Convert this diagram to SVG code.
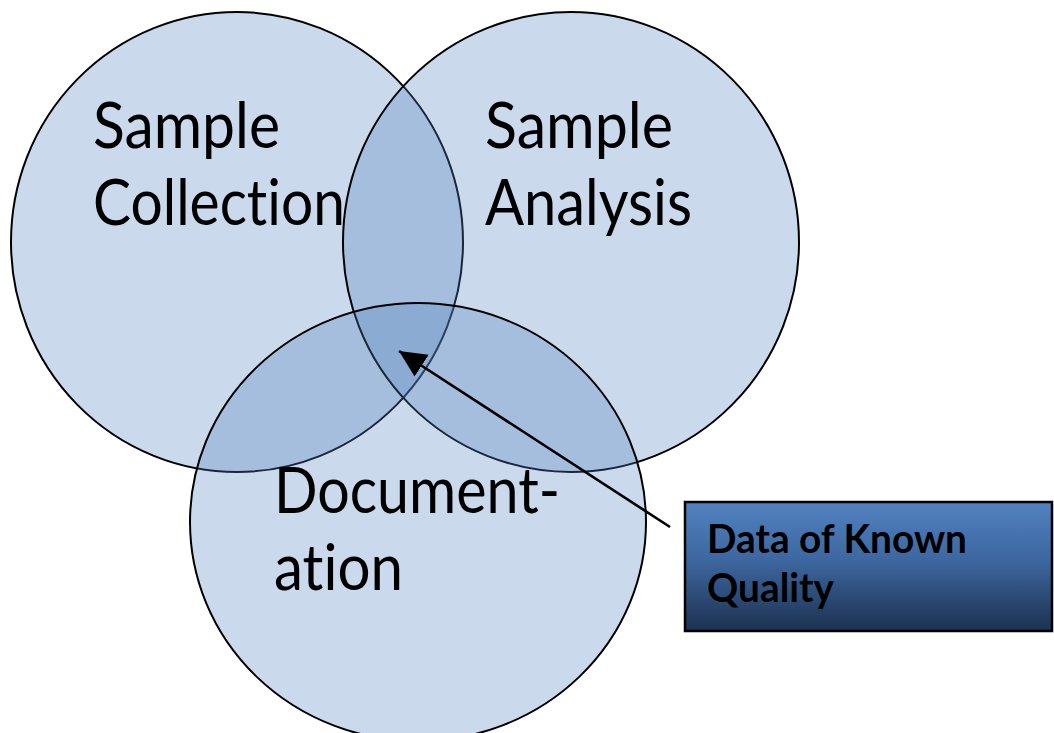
<svg xmlns="http://www.w3.org/2000/svg" width="1054" height="733" viewBox="0 0 1054 733">
  <style>
    .set { fill: #4f81bd; fill-opacity: 0.3; stroke: #000; stroke-width: 2; }
    .lbl { font-family: Lato, "Open Sans", "Liberation Sans", sans-serif; font-size: 63px; fill: #000; font-variant-ligatures: none; }
    .note { font-family: Lato, "Open Sans", "Liberation Sans", sans-serif; font-size: 41px; font-weight: bold; fill: #000; font-variant-ligatures: none; }
    .link { stroke: #000; stroke-width: 2.6; fill: none; }
  </style>
  <defs>
    <linearGradient id="boxFill" x1="0" y1="0" x2="0" y2="1">
      <stop offset="0" stop-color="#5182c0"/>
      <stop offset="0.45" stop-color="#3d67a0"/>
      <stop offset="1" stop-color="#1c3150"/>
    </linearGradient>
    <marker id="head" markerUnits="userSpaceOnUse" markerWidth="30" markerHeight="30" refX="27" refY="13" orient="auto">
      <path d="M0,0 L27,13 L0,26 Z" fill="#000"/>
    </marker>
  </defs>

  <!-- three overlapping sets -->
  <g id="sample-collection">
    <ellipse class="set" cx="237" cy="242" rx="226" ry="230"/>
    <text class="lbl" x="93" y="148" textLength="187" lengthAdjust="spacingAndGlyphs">Sample</text>
    <text class="lbl" x="93" y="225" textLength="252" lengthAdjust="spacingAndGlyphs">Collection</text>
  </g>
  <g id="sample-analysis">
    <ellipse class="set" cx="571" cy="242" rx="228" ry="230"/>
    <text class="lbl" x="485" y="148" textLength="188" lengthAdjust="spacingAndGlyphs">Sample</text>
    <text class="lbl" x="485" y="225" textLength="207" lengthAdjust="spacingAndGlyphs">Analysis</text>
  </g>
  <g id="documentation">
    <ellipse class="set" cx="418" cy="522" rx="228" ry="219"/>
    <text class="lbl" x="274" y="513" textLength="286" lengthAdjust="spacingAndGlyphs">Document-</text>
    <text class="lbl" x="274" y="590" textLength="129" lengthAdjust="spacingAndGlyphs">ation</text>
  </g>

  <!-- callout box -->
  <g id="known-quality">
    <rect x="685" y="502" width="367" height="129" fill="url(#boxFill)" stroke="#000" stroke-width="2.5"/>
    <text class="note" x="707" y="553" textLength="260" lengthAdjust="spacingAndGlyphs">Data of Known</text>
    <text class="note" x="707" y="602" textLength="127" lengthAdjust="spacingAndGlyphs">Quality</text>
  </g>

  <!-- pointer into the common intersection -->
  <g id="connectors">
    <line class="link" x1="670" y1="527" x2="399" y2="351" marker-end="url(#head)"/>
  </g>
</svg>
